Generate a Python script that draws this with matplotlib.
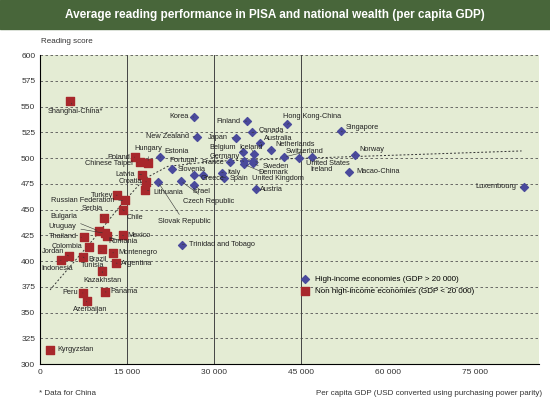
import matplotlib
matplotlib.use("Agg")
import matplotlib.pyplot as plt

plt.rcParams['font.family'] = ['Liberation Sans', 'DejaVu Sans']

hi_names = ["Korea","Finland","New Zealand","Japan","Canada","Hong Kong-China","Singapore","Australia",
            "Netherlands","Belgium","Iceland","Switzerland","Norway","France","Germany","Sweden","Denmark",
            "United Kingdom","United States","Ireland","Macao-China","Italy","Spain","Austria","Luxembourg",
            "Estonia","Portugal","Slovenia","Greece","Israel","Czech Republic","Slovak Republic","Trinidad and Tobago"]
hi_gdp = [26500,35600,27100,33800,36500,42600,51900,37900,39800,34900,36900,42000,54200,32700,35100,36700,36700,
          35100,44600,46900,53300,31300,31700,37200,83400,20700,22800,26500,28000,26500,24200,20300,24500]
hi_score = [540,536,521,520,525,533,526,515,508,506,504,501,503,496,497,497,495,494,500,501,487,486,481,470,472,
            501,489,484,484,474,478,477,416]

lo_names = ["Shanghai-China*","Hungary","Poland","Chinese Taipei","Latvia","Croatia","Lithuania","Turkey",
            "Russian Federation","Chile","Serbia","Bulgaria","Uruguay","Romania","Mexico","Thailand","Colombia",
            "Brazil","Montenegro","Jordan","Indonesia","Tunisia","Argentina","Kazakhstan","Peru","Panama",
            "Azerbaijan","Kyrgyzstan"]
lo_gdp = [5200,18600,16300,17200,17500,18300,18000,13300,14700,14200,11000,10200,11200,11500,14200,7600,8500,
          10700,12500,4900,3600,7400,13100,10700,7400,11200,8000,1700]
lo_score = [556,495,501,496,484,477,469,464,459,450,442,429,427,424,425,423,414,412,408,405,401,404,398,390,
            369,370,361,314]

trend_x = [1700,9000,14000,18000,22000,30000,83000]
trend_y = [372,420,455,480,492,497,507]

xticks = [0,15000,30000,45000,60000,75000]
xtick_labels = ["0","15 000","30 000","45 000","60 000","75 000"]
yticks = list(range(300,601,25))

# label placement (text position, alignment)
label_pos = {
    "Korea":(25600,540,"right"),"Finland":(34600,536,"right"),"New Zealand":(25600,521,"right"),
    "Japan":(32300,520,"right"),"Canada":(37600,527,"left"),"Hong Kong-China":(41800,540,"left"),
    "Singapore":(52600,530,"left"),"Australia":(38600,519,"left"),"Netherlands":(40600,513,"left"),
    "Belgium":(33800,510,"right"),"Iceland":(34300,510,"left"),"Switzerland":(42400,506,"left"),
    "Norway":(55000,508,"left"),"France":(31700,496,"right"),"Germany":(34400,502,"right"),
    "Sweden":(38400,492,"left"),"Denmark":(37600,486,"left"),"United Kingdom":(36600,480,"left"),
    "United States":(45800,495,"left"),"Ireland":(46500,489,"left"),"Macao-China":(54500,487,"left"),
    "Italy":(32300,486,"left"),"Spain":(32700,480,"left"),"Austria":(37900,470,"left"),
    "Luxembourg":(82000,472,"right"),"Estonia":(21500,506,"left"),"Portugal":(22300,498,"left"),
    "Slovenia":(23700,489,"left"),"Greece":(27600,480,"left"),"Israel":(26300,468,"left"),
    "Czech Republic":(24600,458,"left"),"Slovak Republic":(20300,438,"left"),
    "Trinidad and Tobago":(25600,416,"left"),
    "Shanghai-China*":(6000,545,"center"),"Hungary":(18700,509,"center"),"Poland":(15500,501,"right"),
    "Chinese Taipei":(16000,495,"right"),"Latvia":(16400,484,"right"),"Croatia":(17500,477,"right"),
    "Lithuania":(19500,467,"left"),"Turkey":(12600,464,"right"),"Russian Federation":(12800,459,"right"),
    "Chile":(14900,442,"left"),"Serbia":(9000,451,"center"),"Bulgaria":(6400,443,"right"),
    "Uruguay":(6300,434,"right"),"Romania":(11800,419,"left"),"Mexico":(15100,425,"left"),
    "Thailand":(6300,424,"right"),"Colombia":(7300,414,"right"),"Brazil":(8300,402,"left"),
    "Montenegro":(13400,408,"left"),"Jordan":(4200,409,"right"),"Indonesia":(3000,393,"center"),
    "Tunisia":(7000,396,"left"),"Argentina":(14000,398,"left"),"Kazakhstan":(10700,381,"center"),
    "Peru":(6600,369,"right"),"Panama":(12100,370,"left"),"Azerbaijan":(8700,353,"center"),
    "Kyrgyzstan":(2900,314,"left"),
}

fig = plt.figure(figsize=(5.5,4.09), dpi=100)
fig.patch.set_facecolor("white")
fig.patches.append(matplotlib.patches.Rectangle((0.0,0.93),1,0.07,transform=fig.transFigure,color="#48663a",zorder=0))
fig.text(0.5,0.963,"Average reading performance in PISA and national wealth (per capita GDP)",color="white",
         fontsize=8.5,fontweight="bold",ha="center",va="center")
ax = fig.add_axes([0.073,0.11,0.907,0.755])
ax.set_facecolor("#e4ecd4")
ax.set_xlim(0,86000); ax.set_ylim(300,600)
ax.set_xticks(xticks); ax.set_xticklabels(xtick_labels)
ax.set_yticks(yticks)
ax.tick_params(labelsize=6, length=0, colors="#333333")
for s in ax.spines.values(): s.set_visible(False)
ax.spines["left"].set_visible(True); ax.spines["bottom"].set_visible(True)
for y in yticks:
    ax.axhline(y,color="#555555",lw=0.6,ls=(0,(3,3)),zorder=1)
for x in xticks[1:4]:
    ax.axvline(x,color="#444444",lw=0.7,zorder=1)
ax.plot(trend_x,trend_y,color="#333333",lw=0.7,ls=(0,(2,2)),zorder=2)
ax.scatter(hi_gdp,hi_score,marker="D",s=16,color="#4a4a9c",zorder=3,
           label="High-income economies (GDP > 20 000)")
ax.scatter(lo_gdp,lo_score,marker="s",s=26,color="#a8282c",zorder=3,
           label="Non high-income economies (GDP < 20 000)")
for n,x,y in list(zip(hi_names,hi_gdp,hi_score))+list(zip(lo_names,lo_gdp,lo_score)):
    tx,ty,ha = label_pos[n]
    ax.annotate(n,(x,y),xytext=(tx,ty),textcoords="data",fontsize=5.3,ha=ha,va="center",color="#222222",
                arrowprops=dict(arrowstyle="-",lw=0.4,color="#333333",shrinkA=1,shrinkB=2),zorder=4)
ax.legend(loc="lower left",bbox_to_anchor=(0.5,0.2),fontsize=5.8,frameon=False,handletextpad=0.3)
fig.text(0.075,0.895,"Reading score",fontsize=5.8,color="#333333")
fig.text(0.985,0.035,"Per capita GDP (USD converted using purchasing power parity)",fontsize=5.8,
         color="#333333",ha="right")
fig.text(0.07,0.035,"* Data for China",fontsize=5.8,color="#333333")
fig.savefig("out.png",dpi=100)
